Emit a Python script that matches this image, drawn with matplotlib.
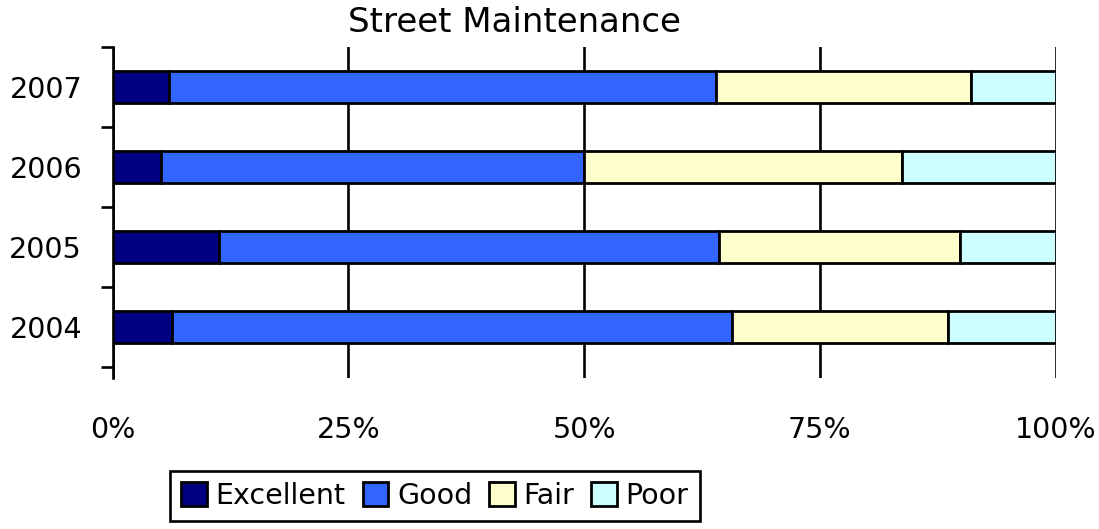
import numpy as np
import matplotlib
matplotlib.use("Agg")
import matplotlib.pyplot as plt
from matplotlib.ticker import FixedLocator, FuncFormatter

years = ["2004", "2005", "2006", "2007"]
excellent = [6.3, 11.3, 5.1, 6.0]
good = [59.4, 53.0, 44.9, 58.0]
fair = [22.9, 25.5, 33.7, 27.0]
poor = [11.4, 10.2, 16.3, 9.0]

series = [("Excellent", excellent, "#000080"),
          ("Good", good, "#3366FF"),
          ("Fair", fair, "#FFFFCC"),
          ("Poor", poor, "#CCFFFF")]

plt.rcParams['font.family'] = ['DejaVu Sans']
fig = plt.figure(figsize=(10.99, 5.29), dpi=100)
ax = fig.add_axes([0.1025, 0.2854, 0.8581, 0.6257])

y = np.arange(len(years))
left = np.zeros(len(years))
for name, vals, color in series:
    ax.barh(y, vals, left=left, height=0.41, color=color,
            edgecolor="black", linewidth=2.0, label=name, zorder=3)
    left += np.asarray(vals)

ax.set_xlim(0, 100)
ax.set_ylim(-0.6375, 3.5)

ax.set_xticks([0, 25, 50, 75, 100])
ax.xaxis.set_major_formatter(FuncFormatter(lambda v, p: f"{v:.0f}%"))
ax.tick_params(axis="x", length=0, pad=27, labelsize=20.5)
ax.grid(axis="x", color="black", linewidth=1.9, zorder=0)

ax.set_yticks(y)
ax.set_yticklabels(years)
ax.yaxis.set_minor_locator(FixedLocator([-0.5, 0.5, 1.5, 2.5, 3.5]))
ax.tick_params(axis="y", which="major", length=0, pad=22, labelsize=20.5)
ax.tick_params(axis="y", which="minor", length=9, width=1.9, direction="out")

for s in ["top", "right", "bottom"]:
    ax.spines[s].set_visible(False)
ax.spines["left"].set_linewidth(1.9)

fig.text(514 / 1099, 1 - 22 / 529, "Street Maintenance", ha="center",
         va="center", fontsize=24.5)

leg = fig.legend(loc="center", bbox_to_anchor=(435 / 1099, 1 - 496 / 529),
                 ncol=4, fontsize=20.5, frameon=True, fancybox=False,
                 framealpha=1, handlelength=0.9, handleheight=0.9,
                 handletextpad=0.3, columnspacing=0.6, borderpad=0.4)
leg.get_frame().set_edgecolor("black")
leg.get_frame().set_linewidth(1.9)

fig.savefig("out.png", dpi=100)
